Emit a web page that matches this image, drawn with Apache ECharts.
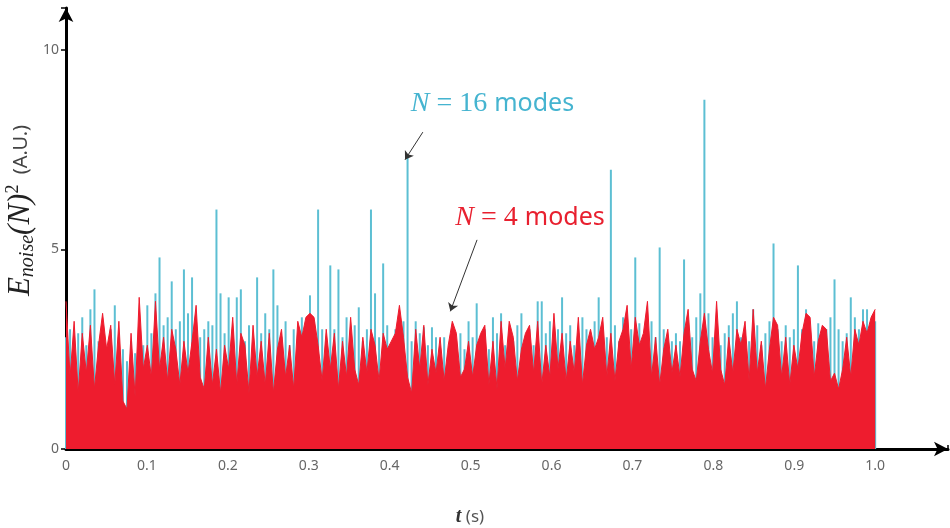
<!DOCTYPE html>
<html>
<head>
<meta charset="utf-8">
<script src="https://cdn.jsdelivr.net/npm/echarts@6/dist/echarts.min.js"></script>
<style>html,body{margin:0;padding:0;background:#fff}#c{width:950px;height:528px}</style>
</head>
<body>
<div id="c"></div>
<script>
// x tick labels (t in seconds)
const xTickLabels = ['0','0.1','0.2','0.3','0.4','0.5','0.6','0.7','0.8','0.9','1.0'];
// y tick labels
const yTickLabels = {0:'0', 5:'5', 10:'10'};
// sampling window (s)
const tStart = 0, tEnd = 1.0;
// N = 4 modes (red)
const redValues = [
 3.7,1.8,3.2,1.4,2.9,1.9,3.1,1.5,2.6,3.4,
 2.5,3.1,1.6,3.2,1.2,1.0,2.9,1.3,3.8,2.0,
 2.6,1.8,3.7,2.0,2.8,1.7,3.0,2.5,1.6,2.7,
 1.9,2.7,3.6,1.8,1.5,2.8,1.6,2.5,1.4,2.6,
 2.0,3.3,1.6,2.9,2.6,1.4,3.1,1.8,2.7,1.6,
 2.9,1.4,2.5,3.0,1.8,2.6,1.5,3.2,2.8,3.3,
 3.4,3.3,2.6,1.7,3.0,2.0,2.9,1.5,2.7,1.8,
 3.3,2.0,1.6,2.8,1.9,3.0,2.6,1.7,2.9,2.5,
 2.7,2.9,3.6,2.8,1.8,1.4,3.0,2.0,3.1,1.6,
 2.5,1.9,2.8,1.7,2.6,3.2,2.9,1.8,2.0,2.7,
 1.8,2.6,2.9,3.1,1.6,2.7,1.5,3.2,2.0,3.2,
 2.8,1.7,2.5,2.9,3.1,1.9,3.2,1.6,2.6,1.8,
 3.4,2.0,2.9,1.7,2.7,1.9,3.3,1.6,2.6,3.0,
 2.5,2.8,3.3,1.8,2.9,1.7,2.7,3.0,3.6,2.0,
 3.3,2.6,2.9,3.7,1.8,2.8,1.6,2.5,3.0,1.9,
 2.6,1.8,2.9,3.5,2.0,1.7,2.7,3.4,2.5,1.9,
 3.7,2.0,1.6,2.8,1.9,3.0,2.6,3.2,1.7,3.5,
 1.9,2.7,1.5,2.5,3.3,3.1,1.8,2.8,1.6,2.6,
 2.0,2.9,3.4,3.3,1.8,2.7,3.1,3.0,1.7,1.9,
 1.5,2.0,2.8,1.8,3.0,2.6,3.2,2.9,3.3,3.5
];
// N = 16 modes (cyan)
const cyanValues = [
 2.8,3.0,2.5,2.9,3.3,2.6,3.5,4.0,2.7,3.1,
 2.4,3.0,3.6,2.8,2.5,2.2,2.7,2.4,3.0,2.6,
 3.6,2.9,3.9,4.8,3.1,3.3,4.2,3.0,3.2,4.5,
 3.4,4.3,2.8,2.8,3.0,3.2,3.1,6.0,3.9,2.9,
 3.8,3.0,3.8,4.0,2.7,3.1,2.6,4.3,2.9,3.4,
 3.0,4.5,3.6,2.8,3.2,2.6,3.0,2.5,3.3,2.9,
 3.85,3.2,6.0,3.0,2.7,4.6,3.0,4.5,2.8,3.3,
 2.6,3.1,3.55,2.7,3.0,6.0,3.9,2.8,4.65,3.1,
 2.6,3.0,2.9,3.2,7.3,2.7,3.2,2.9,3.05,2.6,
 3.05,2.8,2.5,2.8,2.4,3.0,2.6,2.9,2.5,3.2,
 2.8,3.65,2.7,3.0,2.5,3.3,2.9,3.4,2.6,3.0,
 2.7,3.1,3.4,2.8,3.0,2.6,3.7,3.7,2.9,3.2,
 2.7,3.0,3.8,2.9,3.1,2.6,2.9,3.3,3.0,2.7,
 3.2,3.8,3.0,2.8,7.0,3.1,2.7,3.3,2.9,3.0,
 4.8,3.15,2.7,3.0,3.2,2.8,5.05,3.0,2.6,2.7,
 2.9,2.7,4.75,3.1,2.8,3.3,3.9,8.75,3.4,2.8,
 3.0,2.6,2.9,3.1,3.4,3.7,2.8,3.0,2.7,3.5,
 3.1,2.6,2.9,3.2,5.15,3.0,2.7,3.1,2.8,3.0,
 4.6,3.0,3.5,2.9,2.7,3.15,2.8,3.0,3.3,4.25,
 3.0,2.7,2.9,3.8,3.3,3.0,3.5,3.5,3.1,3.2
];
// annotation anchors in data coordinates [t, value]
const cyanLabelAt = [0.527, 8.65];
const cyanArrowFrom = [0.441, 7.94];
const cyanArrowTo = [0.419, 7.25];
const redLabelAt = [0.5735, 5.79];
const redArrowFrom = [0.508, 5.24];
const redArrowTo = [0.475, 3.45];

const xMax = 1.09, yMax = 11.05;
const CYAN = '#5cbfd3', RED = '#ee1c2e';

function toPairs(vals){
  const n = vals.length;
  return vals.map((v,i)=>[tStart + (tEnd - tStart) * i / (n - 1), v]);
}

const chart = echarts.init(document.getElementById('c'), null, {renderer:'canvas'});
const labelRich = (color) => ({
  n:{fontFamily:'Liberation Serif', fontStyle:'italic', fontSize:28, color:color},
  s:{fontFamily:'Liberation Serif', fontSize:28, color:color},
  m:{fontFamily:'Noto Sans', fontSize:25, color:color}
});
chart.setOption({
  animation:false,
  backgroundColor:'#fff',
  grid:{left:66, top:8, width:882, height:441, containLabel:false, outerBoundsMode:'none'},
  xAxis:{
    type:'value', min:0, max:xMax, interval:0.1,
    axisLine:{show:true, onZero:false, symbol:['none','arrow'], symbolSize:[11,14], lineStyle:{color:'#000', width:3}},
    axisTick:{show:true, inside:true, length:4, lineStyle:{color:'#000', width:1.5}},
    axisLabel:{color:'#666', fontSize:14, fontFamily:'Noto Sans', margin:10,
      formatter:(v)=>{const k=Math.round(v*10); return (Math.abs(v*10-k)<1e-6 && k<xTickLabels.length)?xTickLabels[k]:'';}},
    splitLine:{show:false},
    name:'{t|t}{u| (s)}', nameLocation:'middle', nameGap:58, nameMoveOverlap:false,
    nameTextStyle:{padding:[0,74,0,0], rich:{
      t:{fontFamily:'Liberation Serif', fontStyle:'italic', fontWeight:'bold', fontSize:20, color:'#333'},
      u:{fontFamily:'Noto Sans', fontSize:17, color:'#555'}}}
  },
  yAxis:{
    type:'value', min:0, max:yMax, interval:5,
    axisLine:{show:true, onZero:false, symbol:['none','arrow'], symbolSize:[11,14], lineStyle:{color:'#000', width:3}},
    axisTick:{show:true, inside:false, length:5, lineStyle:{color:'#000', width:1.5}},
    axisLabel:{color:'#666', fontSize:14, fontFamily:'Noto Sans', margin:7,
      formatter:(v)=>{const k=Math.round(v); return (Math.abs(v-k)<1e-6 && yTickLabels[k]!==undefined)?yTickLabels[k]:'';}},
    splitLine:{show:false},
    name:'{e|E}{sub|noise}{p|(N)}{sup|2}{u|  (A.U.)}', nameLocation:'middle', nameRotate:90, nameGap:28, nameMoveOverlap:false,
    nameTextStyle:{padding:[0,0,0,36], rich:{
      e:{fontFamily:'Liberation Serif', fontStyle:'italic', fontSize:31, color:'#222', lineHeight:34},
      sub:{fontFamily:'Liberation Serif', fontStyle:'italic', fontSize:20, color:'#222', verticalAlign:'bottom', lineHeight:34},
      p:{fontFamily:'Liberation Serif', fontStyle:'italic', fontSize:31, color:'#222', lineHeight:34},
      sup:{fontFamily:'Liberation Serif', fontSize:18, color:'#222', verticalAlign:'top', lineHeight:34},
      u:{fontFamily:'Noto Sans', fontSize:20, color:'#444', lineHeight:34}}}
  },
  series:[
    {
      name:'N = 16 modes', type:'custom', data:toPairs(cyanValues), encode:{x:0, y:1}, silent:true,
      renderItem:(params, api)=>{
        const t = api.value(0), v = api.value(1);
        const top = api.coord([t, v]);
        const base = api.coord([t, 0]);
        return {type:'rect', shape:{x:top[0]-1, y:top[1], width:2, height:base[1]-top[1]}, style:{fill:CYAN}};
      }
    },
    {
      name:'N = 4 modes', type:'line', data:toPairs(redValues), showSymbol:false, symbol:'none',
      sampling:null, lineStyle:{color:RED, width:1}, areaStyle:{color:RED, opacity:1},
      itemStyle:{color:RED}, silent:true, z:3,
      markPoint:{symbol:'circle', symbolSize:0, silent:true,
        data:[
          {coord:cyanLabelAt, label:{show:true, position:'inside', formatter:'{n|N}{s| = 16 }{m|modes}', rich:labelRich('#45b4d0')}},
          {coord:redLabelAt, label:{show:true, position:'inside', formatter:'{n|N}{s| = 4 }{m|modes}', rich:labelRich('#e8202f')}}
        ]},
      markLine:{silent:true, symbol:['none','arrow'], symbolSize:8, animation:false,
        lineStyle:{color:'#333', width:1, type:'solid'}, label:{show:false},
        data:[[{coord:cyanArrowFrom},{coord:cyanArrowTo}], [{coord:redArrowFrom},{coord:redArrowTo}]]}
    }
  ]
});
</script>
</body>
</html>
